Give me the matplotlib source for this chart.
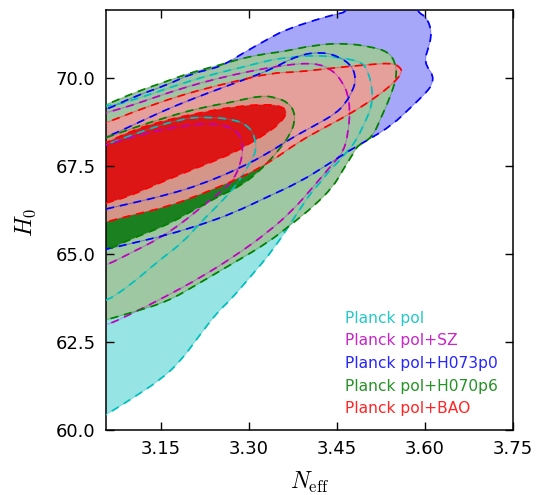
import numpy as np
import matplotlib
matplotlib.use("Agg")
import matplotlib.pyplot as plt
from matplotlib.path import Path
from matplotlib.patches import PathPatch

plt.rcParams["mathtext.fontset"] = "cm"
plt.rcParams["font.family"] = "DejaVu Sans"

# ---- credible-region outlines (N_eff, H0) ----------------------------------
CYAN_95 = [(3.000, 69.30), (3.056, 69.15), (3.119, 69.46), (3.188, 69.86), (3.246, 70.14),
           (3.290, 70.31), (3.336, 70.51), (3.361, 70.57), (3.413, 70.65), (3.459, 70.57),
           (3.493, 70.45), (3.503, 70.17), (3.510, 69.72), (3.510, 69.23), (3.498, 68.75),
           (3.481, 68.18), (3.469, 67.95), (3.452, 67.61), (3.438, 67.39), (3.418, 66.96),
           (3.409, 66.82), (3.382, 66.16), (3.341, 65.11), (3.302, 64.35), (3.268, 63.69),
           (3.246, 63.35), (3.216, 62.70), (3.182, 61.93), (3.148, 61.42), (3.102, 60.91),
           (3.056, 60.43), (3.000, 59.90)]
CYAN_68 = [(3.000, 67.85), (3.056, 68.10), (3.114, 68.47), (3.188, 68.86), (3.233, 68.89),
           (3.279, 68.81), (3.302, 68.58), (3.310, 68.30), (3.312, 67.95), (3.307, 67.76),
           (3.285, 67.10), (3.256, 66.53), (3.216, 65.88), (3.188, 65.34), (3.143, 64.77),
           (3.102, 64.18), (3.068, 63.78), (3.056, 63.69), (3.000, 63.30)]

MAGENTA_95 = [(3.000, 68.75), (3.056, 69.01), (3.102, 69.23), (3.160, 69.57), (3.217, 69.86),
              (3.273, 70.09), (3.314, 70.23), (3.361, 70.37), (3.413, 70.43), (3.442, 70.23),
              (3.459, 69.89), (3.469, 69.52), (3.472, 69.03), (3.469, 68.47), (3.462, 67.93),
              (3.438, 67.47), (3.409, 66.90), (3.375, 66.25), (3.331, 65.60), (3.273, 64.91),
              (3.216, 64.32), (3.160, 63.81), (3.102, 63.32), (3.058, 62.98), (3.000, 62.70)]
MAGENTA_68 = [(3.000, 67.80), (3.056, 68.10), (3.131, 68.47), (3.188, 68.64), (3.233, 68.72),
              (3.268, 68.61), (3.285, 68.38), (3.290, 68.01), (3.285, 67.53), (3.273, 67.10),
              (3.256, 66.82), (3.217, 66.31), (3.188, 65.91), (3.148, 65.45), (3.102, 65.06),
              (3.058, 64.69), (3.000, 64.30)]

BLUE_95 = [(3.000, 68.80), (3.056, 69.09), (3.102, 69.46), (3.160, 69.80), (3.204, 70.14),
           (3.251, 70.31), (3.290, 70.71), (3.336, 71.14), (3.361, 71.36), (3.413, 71.65),
           (3.450, 71.82), (3.467, 71.88), (3.475, 72.40), (3.580, 72.40), (3.586, 71.88),
           (3.603, 71.73), (3.612, 71.28), (3.605, 70.80), (3.600, 70.57), (3.603, 70.31),
           (3.614, 70.09), (3.612, 69.80), (3.600, 69.55), (3.578, 69.20), (3.544, 68.66),
           (3.503, 68.24), (3.472, 67.95), (3.433, 67.53), (3.387, 67.05), (3.331, 66.62),
           (3.273, 66.16), (3.216, 65.82), (3.160, 65.54), (3.102, 65.31), (3.058, 65.14),
           (3.000, 64.95)]
BLUE_68 = [(3.000, 68.00), (3.056, 68.32), (3.092, 68.58), (3.131, 68.89), (3.177, 69.23),
           (3.234, 69.60), (3.290, 69.94), (3.336, 70.23), (3.384, 70.65), (3.424, 70.74),
           (3.455, 70.60), (3.477, 70.31), (3.482, 69.94), (3.477, 69.66), (3.465, 69.29),
           (3.447, 68.98), (3.413, 68.66), (3.373, 68.30), (3.336, 67.90), (3.285, 67.44),
           (3.216, 66.96), (3.160, 66.68), (3.102, 66.45), (3.056, 66.28), (3.000, 66.05)]

GREEN_95 = [(3.000, 68.95), (3.056, 69.23), (3.102, 69.57), (3.160, 69.91), (3.204, 70.17),
            (3.251, 70.37), (3.290, 70.57), (3.336, 70.71), (3.356, 70.74), (3.413, 70.94),
            (3.464, 70.99), (3.510, 70.88), (3.537, 70.74), (3.549, 70.46), (3.552, 70.09),
            (3.546, 69.72), (3.537, 69.32), (3.527, 68.95), (3.510, 68.30), (3.486, 68.10),
            (3.476, 67.81), (3.460, 67.39), (3.443, 66.90), (3.409, 66.34), (3.375, 65.88),
            (3.331, 65.31), (3.273, 64.74), (3.216, 64.18), (3.160, 63.64), (3.102, 63.35),
            (3.058, 63.13), (3.000, 62.90)]
GREEN_68 = [(3.000, 68.00), (3.056, 68.30), (3.102, 68.58), (3.160, 68.89), (3.216, 69.15),
            (3.273, 69.32), (3.319, 69.50), (3.345, 69.45), (3.367, 69.30), (3.377, 69.05),
            (3.378, 68.75), (3.370, 68.40), (3.355, 68.05), (3.341, 67.76), (3.314, 67.30),
            (3.285, 66.93), (3.246, 66.62), (3.216, 66.34), (3.199, 66.19), (3.160, 65.82),
            (3.102, 65.45), (3.058, 65.11), (3.000, 64.85)]

RED_95 = [(3.000, 68.40), (3.056, 68.72), (3.102, 69.03), (3.160, 69.38), (3.216, 69.66),
          (3.273, 69.89), (3.336, 70.14), (3.384, 70.17), (3.441, 70.28), (3.498, 70.37),
          (3.544, 70.43), (3.557, 70.31), (3.561, 70.17), (3.549, 69.89), (3.515, 69.43),
          (3.469, 68.95), (3.424, 68.55), (3.384, 68.18), (3.336, 67.61), (3.285, 67.16),
          (3.216, 66.68), (3.160, 66.34), (3.102, 66.11), (3.056, 65.91), (3.000, 65.65)]
RED_68 = [(3.000, 67.80), (3.056, 68.15), (3.102, 68.52), (3.160, 68.81), (3.216, 69.01),
          (3.273, 69.18), (3.331, 69.26), (3.358, 69.18), (3.365, 69.01), (3.353, 68.72),
          (3.331, 68.44), (3.302, 68.15), (3.273, 67.87), (3.233, 67.59), (3.188, 67.30),
          (3.131, 66.90), (3.092, 66.62), (3.056, 66.45), (3.000, 66.15)]

LABELS = ["Planck pol", "Planck pol+SZ", "Planck pol+H073p0", "Planck pol+H070p6", "Planck pol+BAO"]
COLORS = ["c", "m", "b", "g", "r"]
OUTLINES = [(CYAN_95, CYAN_68), (MAGENTA_95, MAGENTA_68), (BLUE_95, BLUE_68),
            (GREEN_95, GREEN_68), (RED_95, RED_68)]

X_TICKS = [3.15, 3.30, 3.45, 3.60, 3.75]
Y_TICKS = [60.0, 62.5, 65.0, 67.5, 70.0]


def closed_curve(points):
    """Closed path through the outline, with corners rounded by quadratic Beziers."""
    pts = np.asarray(points, dtype=float)
    mids = (pts + np.roll(pts, -1, axis=0)) / 2.0
    verts = [mids[-1]]
    codes = [Path.MOVETO]
    for p, m in zip(pts, mids):
        verts += [p, m]
        codes += [Path.CURVE3, Path.CURVE3]
    return Path(verts, codes)


fig = plt.figure(figsize=(5.49, 4.95), dpi=100)
ax = fig.add_axes([106 / 549, 65 / 495, 407 / 549, 420 / 495])

# filled regions, drawn back to front
fills = [
    (CYAN_95, "#96e4e4", 1.0),
    (BLUE_95, "#a7a7fa", 1.0),
    (GREEN_95, "#9fc79f", 0.97),
    (GREEN_68, "#1b801f", 1.0),
    (RED_95, "#f39a9a", 0.86),
    (RED_68, "#dd1111", 0.97),
]
for pts, fc, a in fills:
    ax.add_patch(PathPatch(closed_curve(pts), facecolor=fc, edgecolor="none",
                           alpha=a, zorder=1))

# outlines on top: faint solid edge plus dashed contour
for (o95, o68), col in zip(OUTLINES, COLORS):
    for pts in (o95, o68):
        ax.add_patch(PathPatch(closed_curve(pts), facecolor="none", edgecolor=col,
                               lw=0.8, alpha=0.35, zorder=3))
        ax.add_patch(PathPatch(closed_curve(pts), facecolor="none", edgecolor=col,
                               lw=1.25, linestyle=(0, (4.6, 3.4)), zorder=4))

ax.set_xlim(3.056, 3.75)
ax.set_ylim(60.0, 71.93)
ax.set_xticks(X_TICKS)
ax.set_xticklabels([f"{v:.2f}" for v in X_TICKS])
ax.set_yticks(Y_TICKS)
ax.set_yticklabels([f"{v:.1f}" for v in Y_TICKS])
ax.tick_params(direction="in", length=6, width=1.0, labelsize=13,
               top=True, right=True, pad=7.5)
for sp in ax.spines.values():
    sp.set_linewidth(1.1)

fig.text(310 / 549, 1 - 482 / 495, r"$N_{\rm eff}$", fontsize=17, ha="center", va="center")
fig.text(26 / 549, 1 - 222 / 495, r"$H_0$", fontsize=17, ha="center", va="center",
         rotation=90)

for i, (lab, col) in enumerate(zip(LABELS, COLORS)):
    ax.text(0.587, 0.2548 - i * 0.0536, lab, color=col, alpha=0.85, fontsize=11.2,
            transform=ax.transAxes, ha="left", va="baseline", zorder=6)

fig.savefig("out.png", dpi=100)
